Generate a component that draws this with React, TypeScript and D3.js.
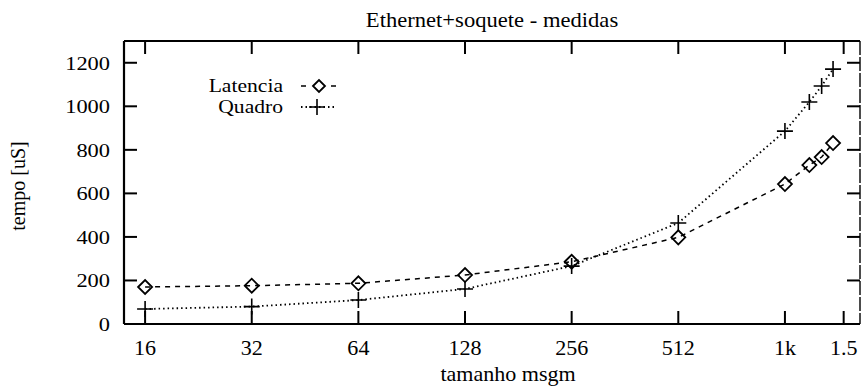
import React from 'react';
import * as d3 from 'd3';

// message sizes (bytes)
const sizes = [16, 32, 64, 128, 256, 512, 1024, 1200, 1300, 1400];
// measured times [uS]
const latencia = [170, 176, 187, 225, 286, 398, 643, 730, 767, 831];
const quadro = [69, 80, 110, 161, 266, 464, 886, 1020, 1093, 1171];

const xTicks = [16, 32, 64, 128, 256, 512, 1024, 1500];
const xTickLabels = ['16', '32', '64', '128', '256', '512', '1k', '1.5'];
const yTicks = [0, 200, 400, 600, 800, 1000, 1200];

const W = 862;
const H = 390;
const margin = { top: 41, right: 2, bottom: 66, left: 124 };
const font = 'Liberation Serif, Times New Roman, serif';

// scaled text helper (the scan is slightly stretched horizontally)
function SText({ x, y, size, sx = 1, anchor = 'middle', children }: any) {
  return (
    <text
      transform={`translate(${x},${y}) scale(${sx},1)`}
      fontFamily={font}
      fontSize={size}
      textAnchor={anchor}
      fill="#000"
    >
      {children}
    </text>
  );
}

function Diamond({ x, y, r = 7 }: any) {
  return (
    <path
      d={`M${x - r},${y}L${x},${y - r}L${x + r},${y}L${x},${y + r}Z`}
      fill="none"
      stroke="#000"
      strokeWidth={1.8}
    />
  );
}

function Plus({ x, y, r = 8 }: any) {
  return (
    <path
      d={`M${x - r},${y}H${x + r}M${x},${y - r}V${y + r}`}
      fill="none"
      stroke="#000"
      strokeWidth={1.6}
    />
  );
}

export default function App() {
  const x0 = margin.left;
  const x1 = W - margin.right;
  const y0 = H - margin.bottom;
  const y1 = margin.top;

  // log2 axis: 16 -> 145px, 1024 -> 785px
  const x = d3.scaleLog().base(2).domain([13.95, 1668]).range([x0, x1]);
  const y = d3.scaleLinear().domain([0, 1300]).range([y0, y1]);

  const line = d3
    .line<[number, number]>()
    .x((d) => x(d[0]))
    .y((d) => y(d[1]));

  const latPts = sizes.map((s, i) => [s, latencia[i]] as [number, number]);
  const quaPts = sizes.map((s, i) => [s, quadro[i]] as [number, number]);

  const tick = 13;

  return (
    <svg
      width={W}
      height={H}
      style={{ position: 'absolute', left: 0, top: 0, background: '#fff' }}
    >
      <rect width={W} height={H} fill="#fff" />

      {/* title */}
      <SText x={(x0 + x1) / 2} y={27} size={20} sx={1.13}>
        Ethernet+soquete - medidas
      </SText>

      {/* frame */}
      <g stroke="#000" fill="none">
        <line x1={x0} y1={y1} x2={x0} y2={y0} strokeWidth={2.2} />
        <line x1={x0} y1={y0} x2={x1} y2={y0} strokeWidth={2.2} />
        <line x1={x0} y1={y1} x2={x1} y2={y1} strokeWidth={2} />
        <line x1={x1} y1={y1} x2={x1} y2={y0} strokeWidth={1.4} strokeDasharray="14,2" />
      </g>

      {/* y ticks */}
      {yTicks.map((t) => (
        <g key={'y' + t}>
          <line x1={x0} x2={x0 + tick} y1={y(t)} y2={y(t)} stroke="#000" strokeWidth={2} />
          {t > 0 && (
            <line x1={x1} x2={x1 - tick} y1={y(t)} y2={y(t)} stroke="#000" strokeWidth={2} />
          )}
          <SText x={110} y={y(t) + 7} size={19.5} sx={1.15} anchor="end">
            {t}
          </SText>
        </g>
      ))}

      {/* x ticks */}
      {xTicks.map((t, i) => (
        <g key={'x' + t}>
          <line x1={x(t)} x2={x(t)} y1={y0} y2={y0 - tick} stroke="#000" strokeWidth={2} />
          <line x1={x(t)} x2={x(t)} y1={y1} y2={y1 + tick} stroke="#000" strokeWidth={2} />
          <SText x={x(t)} y={355} size={21} sx={1.05}>
            {xTickLabels[i]}
          </SText>
        </g>
      ))}

      {/* axis labels */}
      <SText x={508} y={381} size={21} sx={1.05}>
        tamanho msgm
      </SText>
      <text
        transform={`translate(25,186) rotate(-90)`}
        fontFamily={font}
        fontSize={20}
        textAnchor="middle"
      >
        tempo [uS]
      </text>

      {/* series */}
      <path d={line(latPts) || ''} fill="none" stroke="#000" strokeWidth={1.5} strokeDasharray="5,5" />
      <path d={line(quaPts) || ''} fill="none" stroke="#000" strokeWidth={1.8} strokeDasharray="1.5,3" />
      {latPts.map((d, i) => (
        <Diamond key={'l' + i} x={x(d[0])} y={y(d[1])} />
      ))}
      {quaPts.map((d, i) => (
        <Plus key={'q' + i} x={x(d[0])} y={y(d[1])} />
      ))}

      {/* legend */}
      <SText x={283} y={92} size={18} sx={1.2} anchor="end">
        Latencia
      </SText>
      <line x1={301} x2={337} y1={86} y2={86} stroke="#000" strokeWidth={1.5} strokeDasharray="5,5" />
      <rect x={310} y={79} width={18} height={14} fill="#fff" />
      <Diamond x={319} y={86} r={6} />
      <SText x={283} y={113} size={18} sx={1.2} anchor="end">
        Quadro
      </SText>
      <line x1={301} x2={337} y1={107} y2={107} stroke="#000" strokeWidth={1.8} strokeDasharray="1.5,3" />
      <Plus x={317} y={107} />
    </svg>
  );
}
